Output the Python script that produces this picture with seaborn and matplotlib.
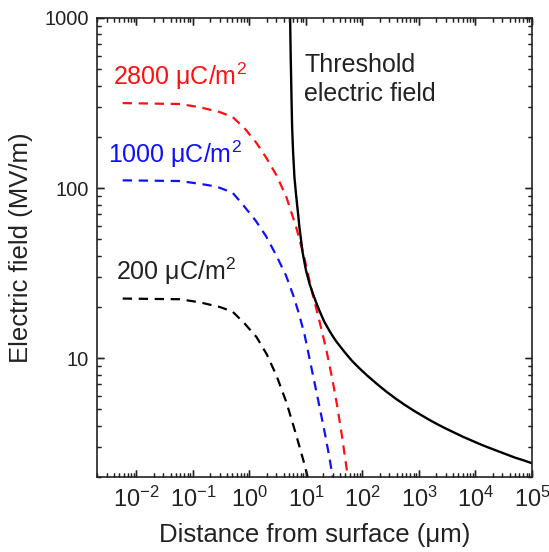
import numpy as np
import pandas as pd
import matplotlib
matplotlib.use("Agg")
import matplotlib.pyplot as plt
import seaborn as sns
from matplotlib.collections import LineCollection
from matplotlib.ticker import LogLocator, FuncFormatter, NullFormatter, FixedLocator

# ---- data ----
thr_x = [5.2, 5.24, 5.3, 5.37, 5.45, 5.55, 5.68, 5.9, 6.24, 6.6, 6.9, 7.3, 7.64, 8.75,
         10, 11.5, 13.1, 15, 17.3, 21, 25.9, 30, 34, 42, 50, 65, 88, 120, 180, 260,
         390, 560, 800, 1100, 1515, 2100, 3000, 4200, 5870, 8300, 12000, 16500, 22900,
         33000, 50000, 70000, 100000]
thr_y = [1200, 1000, 750, 580, 452, 330, 229, 165, 116, 95, 82, 69, 59, 41.5,
         32.8, 27.5, 24.2, 21.4, 19.0, 16.4, 14.5, 13.4, 12.6, 11.5, 10.7, 9.65, 8.72, 7.92, 7.05, 6.38,
         5.77, 5.31, 4.92, 4.62, 4.34, 4.09, 3.85, 3.65, 3.46, 3.29, 3.12, 2.99, 2.87,
         2.74, 2.60, 2.51, 2.41]

red_x = [0.0057, 0.058, 0.131, 0.295, 0.5, 0.816, 1.33, 2.0, 3.0, 4.5, 6.77, 9.37, 13.0,
         17.3, 22.9, 29.3, 35.8, 43.8, 55, 62]
red_y = [316, 312, 299, 280, 262, 225, 184, 150, 119, 88.5, 58.2, 38.7, 24,
         16.5, 11.2, 7.5, 5.2, 3.4, 2.0, 1.6]

blue_x = [0.0057, 0.058, 0.131, 0.26, 0.5, 0.76, 1.3, 1.97, 3.0, 4.45, 6.0, 7.6, 9.5, 11.5,
          14, 17.3, 22, 26, 29.6, 33]
blue_y = [111, 110, 106, 102, 94, 80, 64, 52, 40, 30.5, 23.2, 18, 13.6, 10.0,
          7.3, 5.2, 3.5, 2.6, 2.0, 1.6]

black_x = [0.0057, 0.058, 0.131, 0.295, 0.5, 0.816, 1.33, 2.0, 3.0, 4.5, 6.0, 7.5, 9.0, 10.7, 12]
black_y = [22.4, 22.2, 21.3, 20.0, 18.8, 16.0, 13.3, 10.6, 7.9, 5.5, 4.0, 3.1, 2.5, 2.0, 1.7]

labels = ["2800 \u03bcC/m$^\\mathregular{2}$", "1000 \u03bcC/m$^\\mathregular{2}$",
          "200 \u03bcC/m$^\\mathregular{2}$"]
threshold_label = ["Threshold", "electric field"]
xlabel = "Distance from surface (\u03bcm)"
ylabel = "Electric field (MV/m)"
y_ticks = [10, 100, 1000]
x_ticks = [1e-2, 1e-1, 1e0, 1e1, 1e2, 1e3, 1e4, 1e5]

# ---- style ----
sns.set_style("ticks")
plt.rcParams.update({
    "font.family": ["Liberation Sans", "DejaVu Sans"],
    "mathtext.fontset": "custom",
    "mathtext.rm": "Liberation Sans",
    "mathtext.it": "Liberation Sans:italic",
    "mathtext.bf": "Liberation Sans:bold",
    "axes.unicode_minus": False,
    "axes.edgecolor": "#222222",
    "axes.linewidth": 1.2,
    "axes.axisbelow": False,
})

fig = plt.figure(figsize=(5.49, 5.52), dpi=100)
ax = fig.add_axes([97 / 549, 1 - 477 / 552, (532 - 97) / 549, (477 - 18) / 552])

df_thr = pd.DataFrame({"x": thr_x, "y": thr_y})
df_red = pd.DataFrame({"x": red_x, "y": red_y})
df_blue = pd.DataFrame({"x": blue_x, "y": blue_y})
df_black = pd.DataFrame({"x": black_x, "y": black_y})

dash = (0, (4.2, 3.0))
sns.lineplot(data=df_black, x="x", y="y", ax=ax, color="black", lw=1.6, linestyle=dash, legend=False)
sns.lineplot(data=df_blue, x="x", y="y", ax=ax, color="#1010ff", lw=1.6, linestyle=dash, legend=False)
sns.lineplot(data=df_red, x="x", y="y", ax=ax, color="#ff1010", lw=1.6, linestyle=dash, legend=False)
sns.lineplot(data=df_thr, x="x", y="y", ax=ax, color="black", lw=1.7, legend=False)

ax.set_xscale("log")
ax.set_yscale("log")
ax.set_xlim(0.002, 1e5)
ax.set_ylim(2, 1000)

ax.xaxis.set_major_locator(FixedLocator(x_ticks))
ax.xaxis.set_minor_locator(LogLocator(base=10, subs=np.arange(2, 10), numticks=30))
ax.xaxis.set_major_formatter(FuncFormatter(lambda v, p: r"$\mathregular{10^{%d}}$" % int(round(np.log10(v)))))
ax.xaxis.set_minor_formatter(NullFormatter())

ax.yaxis.set_major_locator(FixedLocator(y_ticks))
ax.yaxis.set_minor_locator(LogLocator(base=10, subs=np.arange(2, 10), numticks=30))
ax.yaxis.set_major_formatter(FuncFormatter(lambda v, p: "%d" % v))
ax.yaxis.set_minor_formatter(NullFormatter())

ax.tick_params(which="both", direction="in", bottom=True, top=True, left=True, right=True,
               color="#222222")
ax.tick_params(which="major", length=5, width=1.0)
ax.tick_params(which="minor", length=2.6, width=0.9)
ax.tick_params(axis="x", which="major", labelsize=17, pad=7, labelcolor="#222222")
ax.tick_params(axis="y", which="major", labelsize=14.5, pad=6, labelcolor="#222222")

# explicit inward tick strokes (same geometry as the axis ticks)
fig.canvas.draw()
bbox = ax.get_window_extent()
pt = fig.dpi / 72.0


def tick_segments(locs, lim, length_pt, horizontal_axis):
    lo, hi = lim
    segs = []
    if horizontal_axis:
        L = length_pt * pt / bbox.height
        for v in locs:
            if lo <= v <= hi:
                segs.append([(v, 0), (v, L)])
                segs.append([(v, 1), (v, 1 - L)])
    else:
        L = length_pt * pt / bbox.width
        for v in locs:
            if lo <= v <= hi:
                segs.append([(0, v), (L, v)])
                segs.append([(1, v), (1 - L, v)])
    return segs


xlim = ax.get_xlim()
ylim = ax.get_ylim()
for locs, length, w in [(ax.xaxis.get_majorticklocs(), 5, 1.0), (ax.xaxis.get_minorticklocs(), 2.6, 0.9)]:
    lc = LineCollection(tick_segments(locs, xlim, length, True), colors="#222222", linewidths=w,
                        transform=ax.get_xaxis_transform(), clip_on=False, zorder=3)
    ax.add_collection(lc, autolim=False)
for locs, length, w in [(ax.yaxis.get_majorticklocs(), 5, 1.0), (ax.yaxis.get_minorticklocs(), 2.6, 0.9)]:
    lc = LineCollection(tick_segments(locs, ylim, length, False), colors="#222222", linewidths=w,
                        transform=ax.get_yaxis_transform(), clip_on=False, zorder=3)
    ax.add_collection(lc, autolim=False)
ax.set_xlim(xlim)
ax.set_ylim(ylim)

ax.set_xlabel(xlabel, fontsize=18.5, labelpad=8, color="#222222")
ax.set_ylabel(ylabel, fontsize=18.5, labelpad=8, color="#222222")

ax.text(0.0038, 403, labels[0], color="#ff1010", fontsize=18, ha="left", va="baseline")
ax.text(0.00314, 139.6, labels[1], color="#1010ff", fontsize=18, ha="left", va="baseline")
ax.text(0.0043, 28.8, labels[2], color="#222222", fontsize=18, ha="left", va="baseline")
ax.text(9.37, 481, threshold_label[0], color="#222222", fontsize=18, ha="left", va="baseline")
ax.text(9.37, 325, threshold_label[1], color="#222222", fontsize=18, ha="left", va="baseline")

fig.savefig("out.png", dpi=100)
